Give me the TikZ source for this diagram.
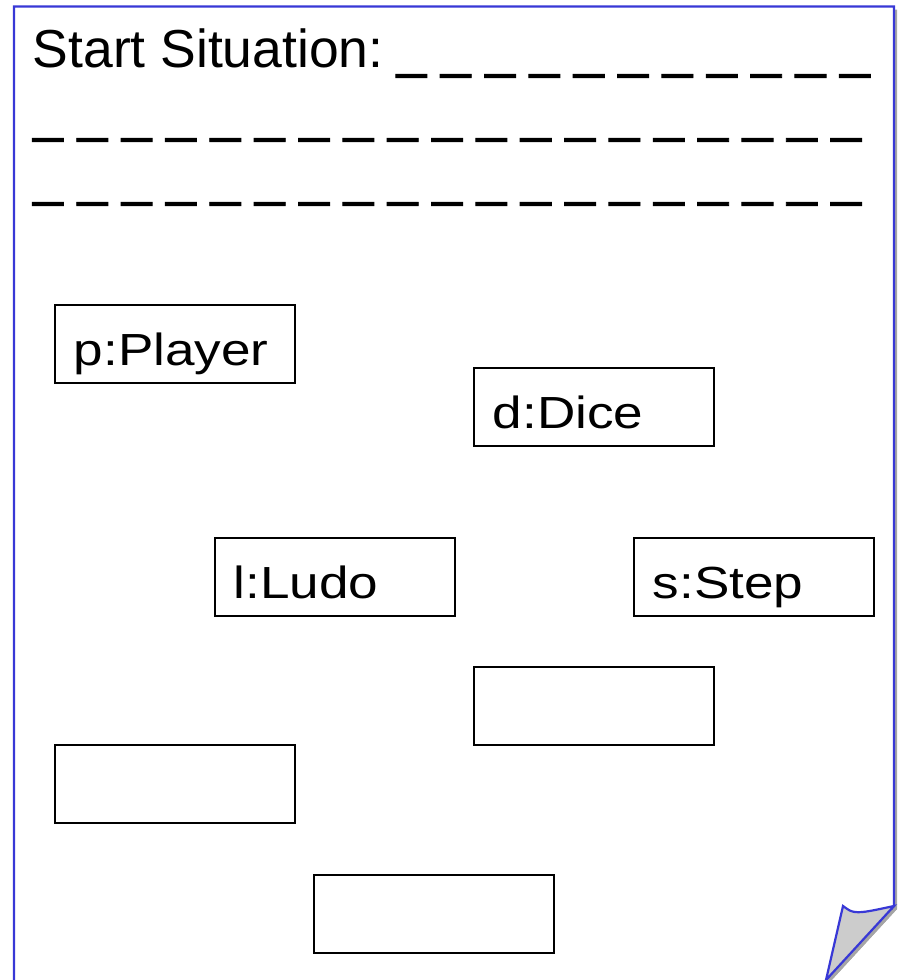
\documentclass[tikz,border=0pt]{standalone}
\usepackage{fontspec}
\setmainfont{Liberation Sans}
\newfontfamily\usfont[FakeBold=1.6]{Liberation Sans}
\definecolor{pageblue}{RGB}{56,56,214}
\definecolor{shadowgrey}{RGB}{165,165,165}
\definecolor{flapgrey}{RGB}{204,204,204}
\tikzset{
  objbox/.style={draw=black, line width=1.6pt, rectangle, minimum width=240pt,
    text width=202pt, inner xsep=19pt, inner ysep=0pt, text height=61pt, text depth=17pt,
    align=left, anchor=north west, font=\fontsize{45}{54}\selectfont},
  titleline/.style={anchor=base west, inner sep=0pt, font=\fontsize{53.5}{64}\selectfont},
  pageline/.style={draw=pageblue, line width=2.2pt, line join=miter},
}
\newcommand{\objtext}[1]{\scalebox{1.18}[1]{#1}}
\newcommand{\blanklast}{{\usfont\_}}
\newcommand{\blank}{\blanklast\hspace{14.6pt}}
\begin{document}
\begin{tikzpicture}[x=1pt,y=-1pt]
\useasboundingbox (0,0) rectangle (899,980);
\clip (0,0) rectangle (899,980);
% shadow of page and flap
\fill[shadowgrey] (17,9.5) -- (897,9.5) -- (897,909) -- (829,983) -- (829,1000) -- (17,1000) -- cycle;
% page
\filldraw[fill=white, pageline] (14,1000) -- (14,6.5) -- (894,6.5) -- (894,906) -- (826,980) -- (820,1000);
% folded corner
\fill[shadowgrey] (897,909) .. controls (878,913) and (866,916) .. (858,915) .. controls (853,914) .. (846,909) -- (829,983) -- cycle;
\filldraw[fill=flapgrey, pageline] (894,906) .. controls (875,910) and (863,913) .. (855,912) .. controls (850,911) .. (843,906) -- (826,980) -- cycle;
% title text
\node[titleline] (t1) at (32.5,67) {Start Situation:\hspace{13pt}\blank\blank\blank\blank\blank\blank\blank\blank\blank\blank\blanklast};
\node[titleline] (t2) at (33,131) {\blank\blank\blank\blank\blank\blank\blank\blank\blank\blank\blank\blank\blank\blank\blank\blank\blank\blank\blanklast};
\node[titleline] (t3) at (33,195) {\blank\blank\blank\blank\blank\blank\blank\blank\blank\blank\blank\blank\blank\blank\blank\blank\blank\blank\blanklast};
% object boxes
\node[objbox] (p) at (54,304) {\objtext{p:Player}};
\node[objbox] (d) at (473,367) {\objtext{d:Dice}};
\node[objbox] (l) at (214,537) {\objtext{l:Ludo}};
\node[objbox] (s) at (633,537) {\objtext{s:Step}};
\node[objbox] (e1) at (473,666) {};
\node[objbox] (e2) at (54,744) {};
\node[objbox] (e3) at (313,874) {};
\end{tikzpicture}
\end{document}
